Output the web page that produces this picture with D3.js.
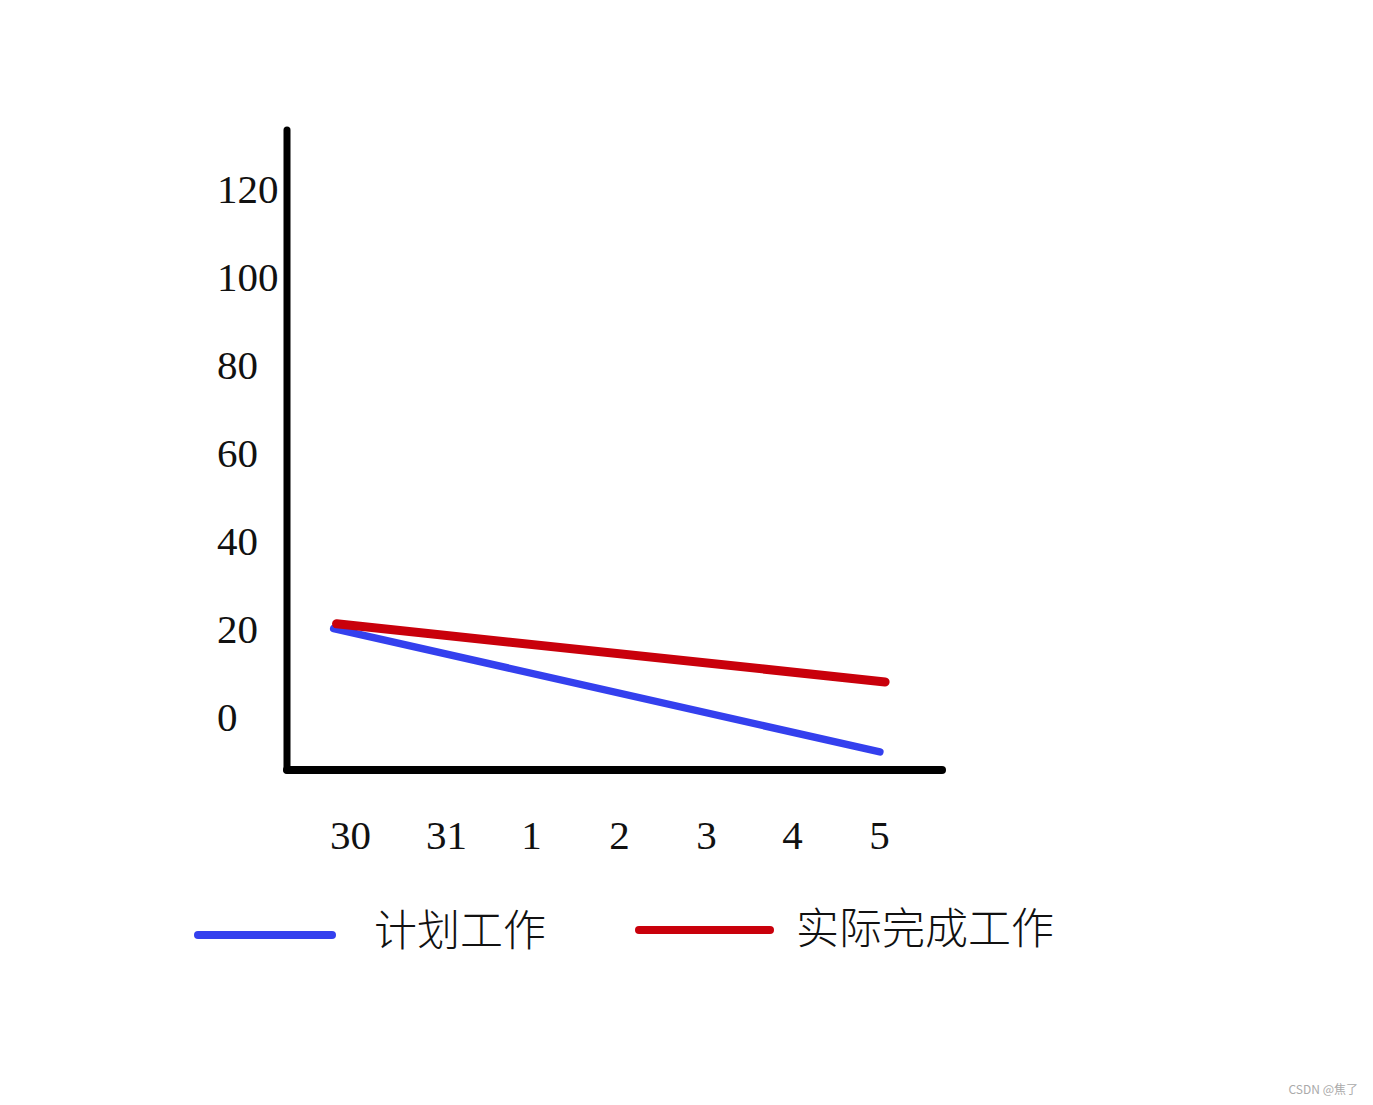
<!DOCTYPE html>
<html>
<head>
<meta charset="utf-8">
<script src="https://cdn.jsdelivr.net/npm/d3@7"></script>
<style>
  html, body { margin: 0; padding: 0; background: #fff; }
  svg { display: block; }
</style>
</head>
<body>
<svg id="chart" width="1373" height="1105"></svg>
<script>
// ---- data ----
const days = ["30", "31", "1", "2", "3", "4", "5"];
const yTicks = [0, 20, 40, 60, 80, 100, 120];
// series: position along the day index and value
const plannedIdx = [-0.17, 6.01];
const plannedVal = [20.3, -7.7];
const actualIdx = [-0.14, 6.07];
const actualVal = [21.4, 8.2];
const seriesNames = ["计划工作", "实际完成工作"];
const seriesColors = ["#3440ee", "#c9000b"];

// ---- layout ----
const svg = d3.select("#chart");
// hand-placed day columns (piecewise linear scale)
const x = d3.scaleLinear().domain(d3.range(days.length)).range([350, 446, 531, 619, 706, 792, 879]);
const y = d3.scaleLinear().domain([0, 120]).range([718, 190]);
const axisX0 = 287, axisX1 = 942, axisYTop = 130, axisYBottom = 770;

// y tick labels via axis
const yAxis = d3.axisLeft(y).tickValues(yTicks).tickSize(0).tickFormat(d3.format("d"));
const gy = svg.append("g").attr("transform", "translate(217,0)").call(yAxis);
gy.select(".domain").remove();
gy.selectAll("text")
  .attr("x", 0).attr("dy", "0.3em")
  .attr("text-anchor", "start")
  .style("font-family", "'Liberation Serif', 'DejaVu Serif', serif")
  .style("font-size", "41px")
  .attr("fill", "#111");

// x tick labels via axis
const xAxis = d3.axisBottom(x).tickValues(d3.range(days.length)).tickSize(0).tickFormat(i => days[i]);
const gx = svg.append("g").attr("transform", "translate(0,820)").call(xAxis);
gx.select(".domain").remove();
gx.selectAll("text")
  .attr("y", 0).attr("dy", "0.71em")
  .style("font-family", "'Liberation Serif', 'DejaVu Serif', serif")
  .style("font-size", "41px")
  .attr("fill", "#111");

// axis lines
svg.append("line")
  .attr("x1", axisX0).attr("y1", axisYTop).attr("x2", axisX0).attr("y2", axisYBottom)
  .attr("stroke", "#000").attr("stroke-width", 7).attr("stroke-linecap", "round");
svg.append("line")
  .attr("x1", axisX0).attr("y1", axisYBottom).attr("x2", axisX1).attr("y2", axisYBottom)
  .attr("stroke", "#000").attr("stroke-width", 8).attr("stroke-linecap", "round");

// series lines
const line = d3.line().x(d => x(d[0])).y(d => y(d[1]));
const series = [
  { pts: d3.zip(plannedIdx, plannedVal), color: seriesColors[0], w: 7.5 },
  { pts: d3.zip(actualIdx, actualVal), color: seriesColors[1], w: 9 }
];
svg.selectAll("path.series").data(series).enter().append("path")
  .attr("class", "series")
  .attr("d", d => line(d.pts))
  .attr("fill", "none")
  .attr("stroke", d => d.color)
  .attr("stroke-width", d => d.w)
  .attr("stroke-linecap", "round");

// legend
const legend = [
  { name: seriesNames[0], color: seriesColors[0], lx: 198, lw: 134, ly: 935, tx: 374, ty: 931 },
  { name: seriesNames[1], color: seriesColors[1], lx: 639, lw: 131, ly: 930, tx: 796, ty: 929 }
];
const lg = svg.selectAll("g.legend").data(legend).enter().append("g").attr("class", "legend");
lg.append("line")
  .attr("x1", d => d.lx).attr("x2", d => d.lx + d.lw)
  .attr("y1", d => d.ly).attr("y2", d => d.ly)
  .attr("stroke", d => d.color).attr("stroke-width", 8).attr("stroke-linecap", "round");
lg.append("text")
  .attr("x", d => d.tx).attr("y", d => d.ty).attr("dy", "0.36em")
  .text(d => d.name)
  .style("font-family", "'Noto Sans CJK SC', sans-serif")
  .style("font-weight", 300)
  .style("font-size", "43px")
  .attr("fill", "#111");

// watermark
svg.append("text")
  .attr("x", 1358).attr("y", 1094)
  .attr("text-anchor", "end")
  .text("CSDN @焦了")
  .style("font-family", "'Noto Sans CJK SC', sans-serif")
  .style("font-size", "12px")
  .attr("fill", "#aaa");
</script>
</body>
</html>
